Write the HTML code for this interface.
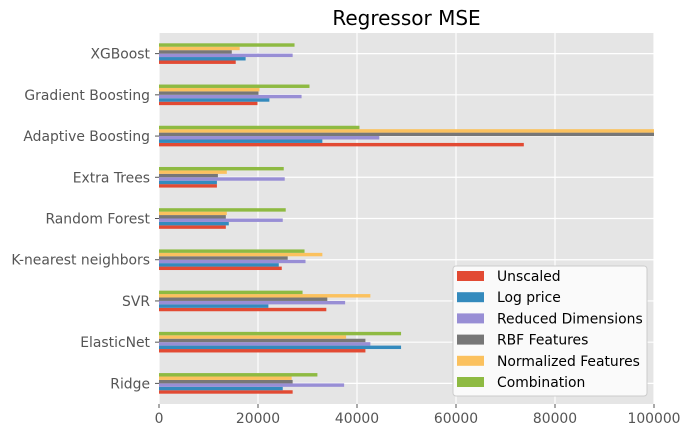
<!DOCTYPE html>
<html><head><meta charset="utf-8"><style>
body{margin:0;background:#fff}
svg{display:block;font-family:"DejaVu Sans","Liberation Sans",sans-serif}
</style></head><body>
<svg id="chart" width="690" height="436"></svg>
<script>
const categories=["Ridge","ElasticNet","SVR","K-nearest neighbors","Random Forest","Extra Trees","Adaptive Boosting","Gradient Boosting","XGBoost"];
const seriesNames=["Unscaled","Log price","Reduced Dimensions","RBF Features","Normalized Features","Combination"];
const unscaled=[27000,41700,33800,24800,13500,11700,73700,19900,15500];
const logPrice=[25000,48900,22100,24200,14100,11700,33000,22300,17500];
const reducedDims=[37400,42700,37600,29600,25000,25400,44500,28800,27000];
const rbfFeatures=[27000,41700,34000,26000,13500,11900,120000,20100,14700];
const normalizedFeatures=[26800,37800,42700,33000,13700,13700,120000,20300,16300];
const combination=[32000,48900,29000,29400,25600,25200,40500,30400,27380];
const xTicks=[0,20000,40000,60000,80000,100000];
const colors=["#E24A33","#348ABD","#988ED5","#777777","#FBC15E","#8EBA42"];
const series=[unscaled,logPrice,reducedDims,rbfFeatures,normalizedFeatures,combination];

const svg=document.getElementById('chart');
const NS="http://www.w3.org/2000/svg";
const L=159,R=654,T=33,B=404;
const x=v=>L+Math.min(v,100000)/100000*(R-L);
const step=(B-T)/categories.length;
const yc=i=>B-step*(i+0.5);
function mk(tag,attrs,parent){const e=document.createElementNS(NS,tag);for(const k in attrs)e.setAttribute(k,attrs[k]);(parent||svg).appendChild(e);return e;}

const bg=mk('rect',{x:L,y:T,width:R-L,height:B-T,fill:'#E5E5E5'});


xTicks.forEach(t=>{
  const g=mk('line',{x1:x(t),x2:x(t),y1:T,y2:B,stroke:'#fff','stroke-width':1.2});
  
  
  mk('line',{x1:x(t),x2:x(t),y1:B,y2:B+4,stroke:'#555','stroke-width':1});
  const tx=mk('text',{x:x(t),y:B+19,'text-anchor':'middle','font-size':13.9,fill:'#555'});
  tx.textContent=String(t);
  
  
});
categories.forEach((c,i)=>{
  const g=mk('line',{x1:L,x2:R,y1:yc(i),y2:yc(i),stroke:'#fff','stroke-width':1.2});
  
  
  mk('line',{x1:L-4,x2:L,y1:yc(i),y2:yc(i),stroke:'#555','stroke-width':1});
  const tx=mk('text',{x:L-9,y:yc(i)+5,'text-anchor':'end','font-size':13.9,fill:'#555'});
  tx.textContent=c;
  
  
});
const bh=step*0.5/series.length;
series.forEach((s,k)=>{
  s.forEach((v,i)=>{
    const top=yc(i)+step*0.25-(k+1)*bh;
    const r=mk('rect',{x:L,y:top,width:x(v)-L,height:bh,fill:colors[k]});
    
    
  });
});
const title=mk('text',{x:(L+R)/2,y:25,'text-anchor':'middle','font-size':20,fill:'#000'});
title.textContent='Regressor MSE';


const lg=mk('g',{});


mk('rect',{x:453,y:266,width:194,height:130,rx:3,fill:'#fafafa',stroke:'#ccc','stroke-width':1},lg);
seriesNames.forEach((n,k)=>{
  const yy=276+k*21.2;
  const p=mk('rect',{x:457,y:yy-5,width:27,height:10,fill:colors[k]},lg);
  
  
  const t=mk('text',{x:497,y:yy+5,'font-size':13.9,fill:'#000'},lg);
  t.textContent=n;
  
  
});
</script>
</body></html>
